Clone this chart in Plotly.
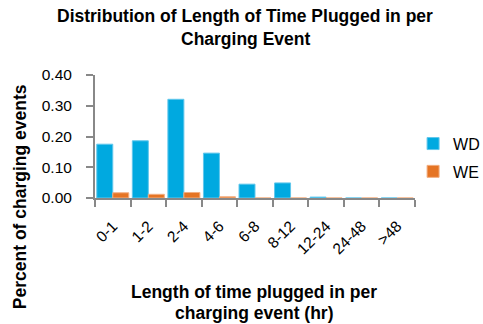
import plotly.graph_objects as go

categories = ["0-1", "1-2", "2-4", "4-6", "6-8", "8-12", "12-24", "24-48", ">48"]
wd_values = [0.175, 0.186, 0.321, 0.146, 0.045, 0.049, 0.003, 0.0, 0.0]
we_values = [0.017, 0.012, 0.018, 0.004, 0.0, 0.0, 0.0, 0.0, 0.0]

title_lines = ["Distribution of Length of Time Plugged in per", "Charging Event"]
x_title_lines = ["Length of time plugged in per", "charging event (hr)"]
y_title = "Percent of charging events"

font_family = "Liberation Sans, Arial, sans-serif"
axis_grey = "#888888"

fig = go.Figure()
fig.add_trace(go.Bar(x=categories, y=wd_values, name="WD", legendgroup="wd",
                     marker=dict(color="#00A9E0", line=dict(width=1, color="#62C7EC"))))
fig.add_trace(go.Bar(x=categories, y=we_values, name="WE", legendgroup="we",
                     marker=dict(color="#E57424", line=dict(width=1, color="#F2AE80"))))

annotations = []
# chart title, one annotation per line
for text, y in zip(title_lines, [1.478, 1.29]):
    annotations.append(dict(text=f"<b>{text}</b>", xref="paper", yref="paper",
                            x=0.469, y=y, xanchor="center", yanchor="middle",
                            showarrow=False, font=dict(size=17.5, family=font_family)))
# x axis title
for text, y in zip(x_title_lines, [-0.765, -0.932]):
    annotations.append(dict(text=f"<b>{text}</b>", xref="paper", yref="paper",
                            x=0.497, y=y, xanchor="center", yanchor="middle",
                            showarrow=False, font=dict(size=17.5, family=font_family)))
# y axis title
annotations.append(dict(text=f"<b>{y_title}</b>", xref="paper", yref="paper",
                        x=-0.234, y=0.008, xanchor="center", yanchor="middle",
                        textangle=-90, showarrow=False,
                        font=dict(size=17.5, family=font_family)))

fig.update_layout(
    width=483, height=324,
    margin=dict(l=95, r=68, t=75, b=126, autoexpand=False),
    paper_bgcolor="white", plot_bgcolor="white",
    font=dict(family=font_family, size=15.5, color="#000000"),
    barmode="group", bargap=0.1, bargroupgap=0.0,
    legend=dict(x=0.994, y=0.58, xanchor="left", yanchor="top",
                font=dict(size=16), tracegroupgap=4,
                bgcolor="rgba(0,0,0,0)"),
    annotations=annotations,
    showlegend=True,
)
fig.update_xaxes(
    showline=True, linecolor=axis_grey, linewidth=2,
    ticks="outside", tickson="boundaries", ticklen=7, tickcolor=axis_grey, tickwidth=2,
    tickangle=-45, tickfont=dict(size=15.5), ticklabelstandoff=11,
)
fig.update_yaxes(
    range=[0, 0.40], dtick=0.1, tickformat=".2f",
    showline=True, linecolor=axis_grey, linewidth=2,
    ticks="outside", ticklen=7, tickcolor=axis_grey, tickwidth=2,
    showgrid=False, zeroline=False, tickfont=dict(size=15.5),
    ticklabelstandoff=11,
)

fig.write_html("out.html")
